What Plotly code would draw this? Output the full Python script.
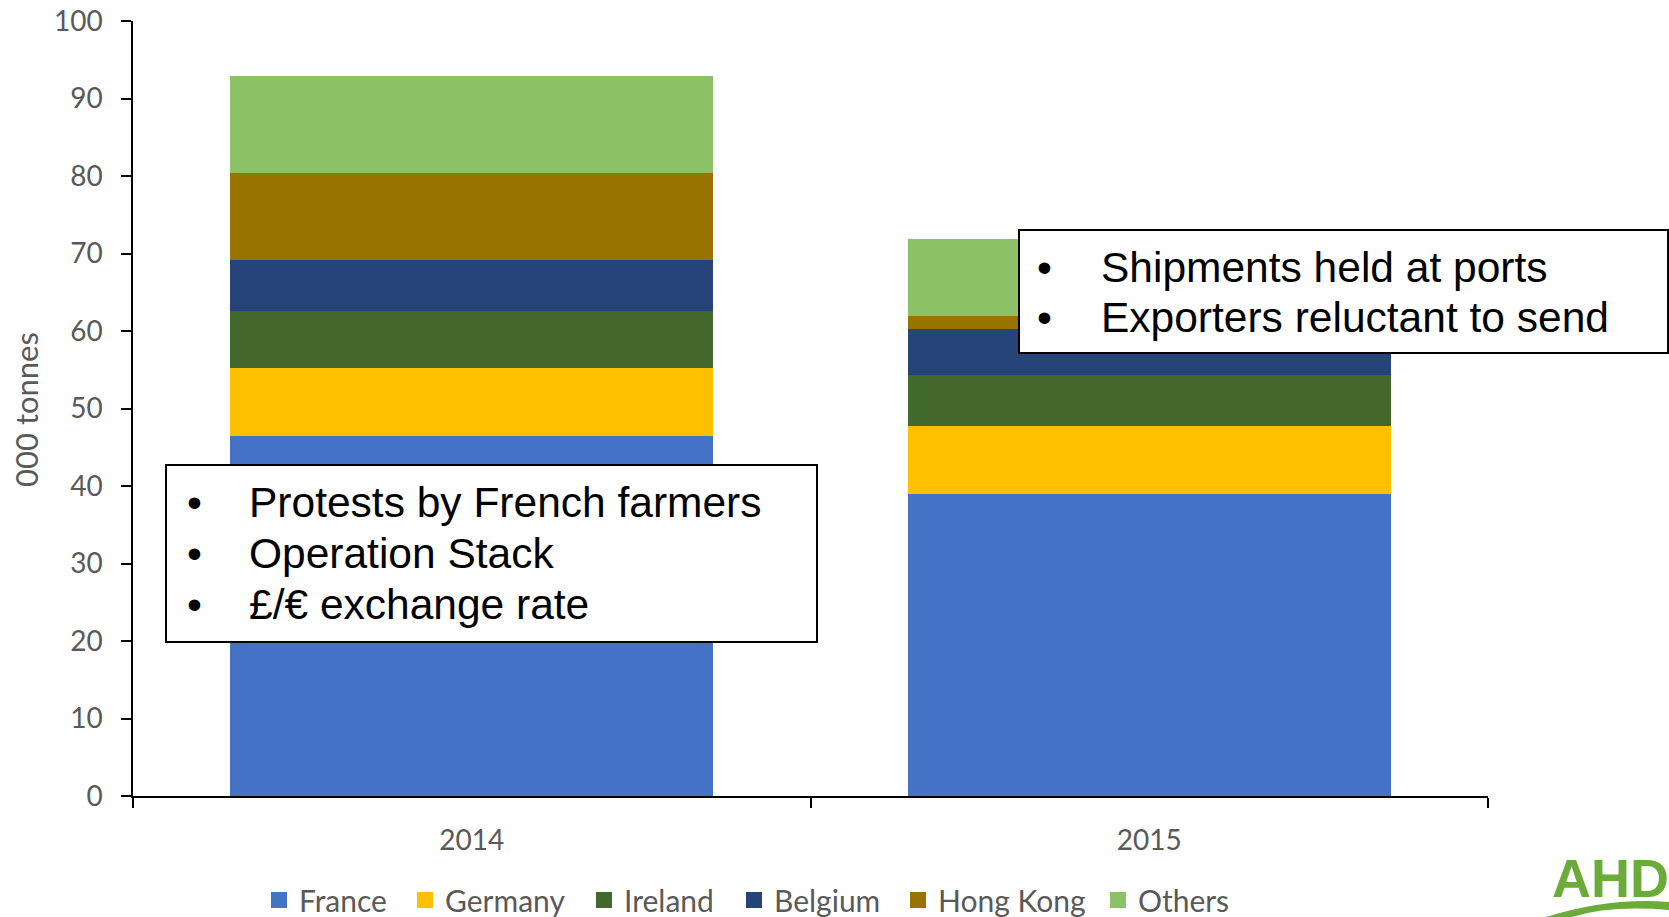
import plotly.graph_objects as go

years = ["2014", "2015"]
series_names = ["France", "Germany", "Ireland", "Belgium", "Hong Kong", "Others"]
france = [46.5, 39.0]
germany = [8.7, 8.8]
ireland = [7.4, 6.5]
belgium = [6.6, 5.9]
hong_kong = [11.2, 1.7]
others = [12.5, 10.0]
y_ticks = [0, 10, 20, 30, 40, 50, 60, 70, 80, 90, 100]
y_title = "000 tonnes"
box1_lines = ["Protests by French farmers", "Operation Stack", "£/€ exchange rate"]
box2_lines = ["Shipments held at ports", "Exporters reluctant to send"]

values = [france, germany, ireland, belgium, hong_kong, others]
colors = ["#4472C4", "#FFC000", "#43682B", "#264478", "#997300", "#8CC168"]

W, H = 1669, 917
# plot area in screen pixels
SL, SR, ST, SB = 133, 1488, 21, 796


def px(x):
    return (x - SL) / (SR - SL)


def py(y):
    return (SB - y) / (SB - ST)


tick_font = dict(family="Lato, 'Open Sans', sans-serif", size=28, color="#595959")
legend_font = dict(family="Lato, 'Open Sans', sans-serif", size=30, color="#595959")

# legend text start positions (screen pixels) for each entry
legend_text_x = [301, 447, 626, 776, 940, 1140]

fig = go.Figure()
legend_ids = ["legend", "legend2", "legend3", "legend4", "legend5", "legend6"]
for name, vals, col, lid in zip(series_names, values, colors, legend_ids):
    fig.add_trace(go.Bar(x=years, y=vals, name=name, marker=dict(color=col, line=dict(width=0)),
                         showlegend=False, legendgroup=name))
    fig.add_trace(go.Scatter(x=[years[0]], y=[None], mode="markers", name=name, legendgroup=name,
                             marker=dict(symbol="square", size=18, color=col), showlegend=True,
                             legend=lid, hoverinfo="skip"))

legend_layout = {}
for lid, tx in zip(legend_ids, legend_text_x):
    legend_layout[lid] = dict(orientation="h", x=px(tx - 42), xanchor="left", y=py(900), yanchor="middle",
                              font=legend_font, bgcolor="rgba(0,0,0,0)", borderwidth=0)

fig.update_layout(
    width=W, height=H,
    margin=dict(l=SL, r=W - SR, t=ST, b=H - SB, pad=0, autoexpand=False),
    barmode="stack",
    bargap=0.287,
    plot_bgcolor="white",
    paper_bgcolor="white",
    showlegend=True,
    xaxis=dict(showline=True, linecolor="black", linewidth=1.5, ticks="outside", ticklen=10,
               tickcolor="black", tickwidth=1.5, tickson="boundaries", tickfont=tick_font,
               ticklabelstandoff=19, showgrid=False, zeroline=False, automargin=False,
               ticklabeloverflow="allow"),
    yaxis=dict(range=[0, 100], tickvals=y_ticks, showline=True, linecolor="black", linewidth=1.5,
               ticks="outside", ticklen=10, tickcolor="black", tickwidth=1.5, tickfont=tick_font,
               ticklabelstandoff=13, showgrid=False, zeroline=False, automargin=False,
               ticklabeloverflow="allow"),
    **legend_layout,
)

# y-axis title
fig.add_annotation(xref="paper", yref="paper", x=px(26), y=py(410), text=y_title, showarrow=False,
                   textangle=-90, xanchor="center", yanchor="middle",
                   font=dict(family="Lato, 'Open Sans', sans-serif", size=31, color="#595959"))

box_font = dict(family="'Liberation Sans', Arial, sans-serif", size=42.5, color="black")

# box 1
fig.add_shape(type="rect", xref="paper", yref="paper", x0=px(166), x1=px(817), y0=py(642), y1=py(465),
              line=dict(color="black", width=2), fillcolor="white", layer="above")
for i, t in enumerate(box1_lines):
    yy = py(502.7 + 51 * i)
    fig.add_annotation(xref="paper", yref="paper", x=px(194), y=yy, text="•", showarrow=False,
                       xanchor="center", yanchor="middle", font=box_font)
    fig.add_annotation(xref="paper", yref="paper", x=px(247), y=yy, text=t, showarrow=False,
                       xanchor="left", yanchor="middle", font=box_font)

# box 2
fig.add_shape(type="rect", xref="paper", yref="paper", x0=px(1019), x1=px(1668), y0=py(353), y1=py(230),
              line=dict(color="black", width=2), fillcolor="white", layer="above")
for i, t in enumerate(box2_lines):
    yy = py(267 + 51 * i)
    fig.add_annotation(xref="paper", yref="paper", x=px(1044), y=yy, text="•", showarrow=False,
                       xanchor="center", yanchor="middle", font=box_font)
    fig.add_annotation(xref="paper", yref="paper", x=px(1099), y=yy, text=t, showarrow=False,
                       xanchor="left", yanchor="middle", font=box_font)

# logo (partially visible)
fig.add_annotation(xref="paper", yref="paper", x=px(1550), y=py(878), text="<b>AHD</b>", showarrow=False,
                   xanchor="left", yanchor="middle",
                   font=dict(family="'Liberation Sans', Arial, sans-serif", size=54, color="#6AAB3A"))
x0 = px(1546); x1 = px(1669); xm = px(1610)
fig.add_shape(type="path", xref="paper", yref="paper",
              path=f"M {x0},{py(917)} Q {xm},{py(897)} {x1},{py(902)} L {x1},{py(910)} Q {xm},{py(905)} {px(1572)},{py(917)} Z",
              fillcolor="#6AAB3A", line=dict(width=0))

post = ("document.body.style.margin='0';document.body.style.overflow='hidden';"
        "document.documentElement.style.overflow='hidden';")
fig.write_html("out.html", post_script=post, config={"displayModeBar": False})
